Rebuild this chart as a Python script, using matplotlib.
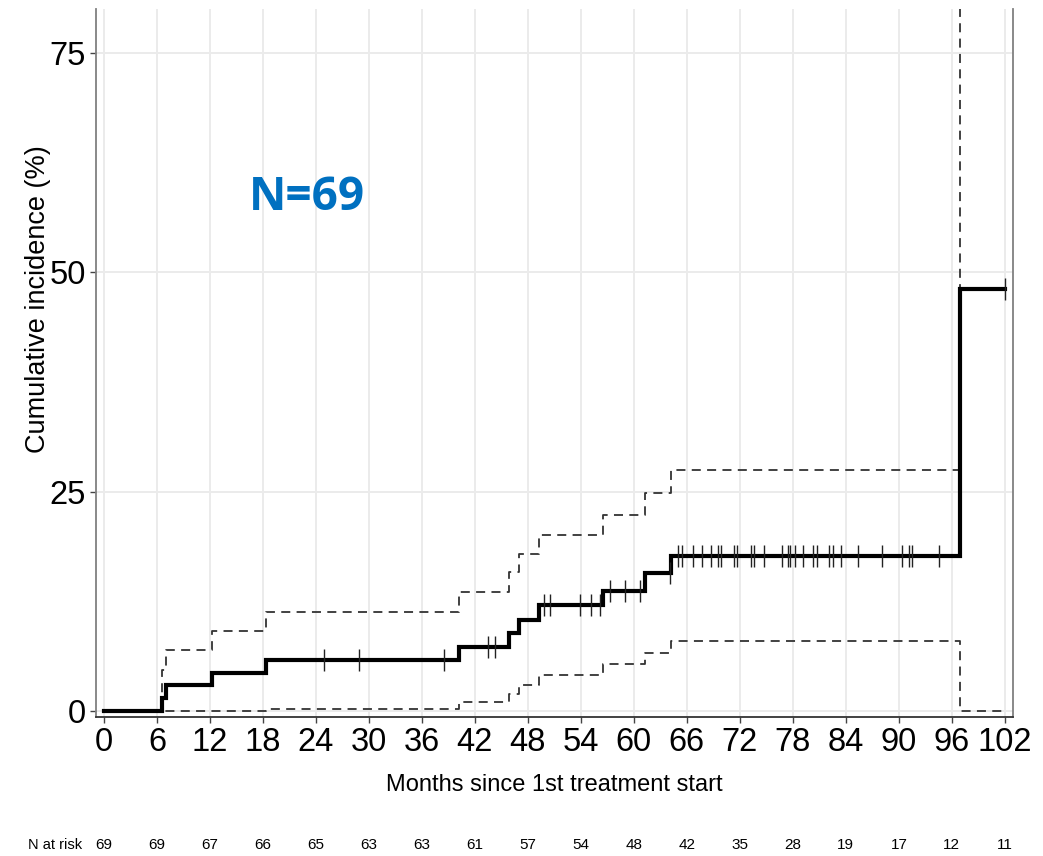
import numpy as np
import matplotlib
matplotlib.use("Agg")
import matplotlib.pyplot as plt
import matplotlib.transforms as mtransforms

# Cumulative incidence estimate with 95% confidence band (step functions)
step_times = [0, 6.6, 7.0, 12.2, 18.3, 40.2, 45.9, 47.0, 49.3, 56.5, 61.3, 64.2, 96.9, 102.0]
estimate = [0, 1.45, 2.9, 4.35, 5.8, 7.25, 8.9, 10.4, 12.1, 13.7, 15.7, 17.7, 48.1, 48.1]
upper_ci = [0, 4.7, 6.9, 9.15, 11.3, 13.5, 15.8, 17.9, 20.0, 22.3, 24.8, 27.4, 100, 100]
lower_ci = [0, 0, 0, 0, 0.26, 1.06, 1.94, 3.0, 4.1, 5.3, 6.65, 7.95, 0, 0]

# Censoring times (months)
censor_times = [24.9, 28.9, 38.5, 43.5, 44.3, 49.8, 50.5, 53.9, 55.2, 56.2, 57.3,
                59.0, 60.7, 64.1, 65.0, 65.5, 66.7, 67.7, 68.7, 69.5, 69.9, 71.3,
                71.7, 73.3, 73.6, 74.7, 76.8, 77.5, 77.7, 78.2, 79.1, 80.3, 80.7,
                82.1, 82.6, 83.5, 85.4, 88.1, 90.4, 91.2, 91.5, 94.5, 102.0]

# Number at risk at each tick
risk_times = list(range(0, 103, 6))
n_at_risk = [69, 69, 67, 66, 65, 63, 63, 61, 57, 54, 48, 42, 35, 28, 19, 17, 12, 11]

narrow = ["Liberation Sans Narrow", "Liberation Sans", "DejaVu Sans"]

fig = plt.figure(figsize=(10.43, 8.56), dpi=100)
ax = fig.add_axes([0.092, 0.1624, 0.879, 0.8271])

ax.grid(True, color="#EBEBEB", linewidth=1.4)
ax.set_axisbelow(True)

ax.step(step_times, upper_ci, where="post", color="#333333", lw=1.3,
        linestyle=(0, (5, 3.5)))
ax.step(step_times, lower_ci, where="post", color="#333333", lw=1.3,
        linestyle=(0, (5, 3.5)))
ax.step(step_times, estimate, where="post", color="black", lw=3.0,
        solid_joinstyle="miter")

# Censor marks sit on the estimate curve
idx = np.searchsorted(step_times, censor_times, side="right") - 1
censor_y = np.array(estimate)[idx]
ax.plot(censor_times, censor_y, linestyle="none", marker="|", markersize=16,
        markeredgewidth=1.0, color="#222222")

ax.set_xlim(-0.9, 102.9)
ax.set_ylim(-0.7, 80)
ax.set_xticks(risk_times)
ax.set_yticks([0, 25, 50, 75])

ax.spines["top"].set_visible(False)
ax.spines["left"].set_color("#808080")
ax.spines["right"].set_color("#808080")
ax.spines["bottom"].set_color("#333333")
for s in ax.spines.values():
    s.set_linewidth(1.3)

ax.tick_params(axis="both", length=4, width=1, color="#444444", pad=3)
for lab in ax.get_xticklabels() + ax.get_yticklabels():
    lab.set_family(narrow)
    lab.set_stretch("condensed")
    lab.set_fontsize(23.5)
    lab.set_color("black")

ax.set_xlabel("Months since 1st treatment start", family=narrow,
              stretch="condensed", fontsize=17, labelpad=12)
ax.set_ylabel("Cumulative incidence (%)", family=["Liberation Sans", "DejaVu Sans"],
              fontsize=19.5)
ax.yaxis.set_label_coords(-0.049, 0.59)

ax.text(23, 58.5, "N=69", color="#0070C0", fontsize=33, fontweight="bold",
        family=["Open Sans", "DejaVu Sans"], ha="center", va="center")

# Risk table row under the axis
trans = mtransforms.blended_transform_factory(ax.transData, fig.transFigure)
ax.text(-2.5, 0.013, "N at risk", transform=trans, ha="right", va="center",
        family=narrow, stretch="condensed", fontsize=10.5)
for t, n in zip(risk_times, n_at_risk):
    ax.text(t, 0.013, str(n), transform=trans, ha="center", va="center",
            family=narrow, stretch="condensed", fontsize=11)

fig.savefig("out.png", dpi=100)
